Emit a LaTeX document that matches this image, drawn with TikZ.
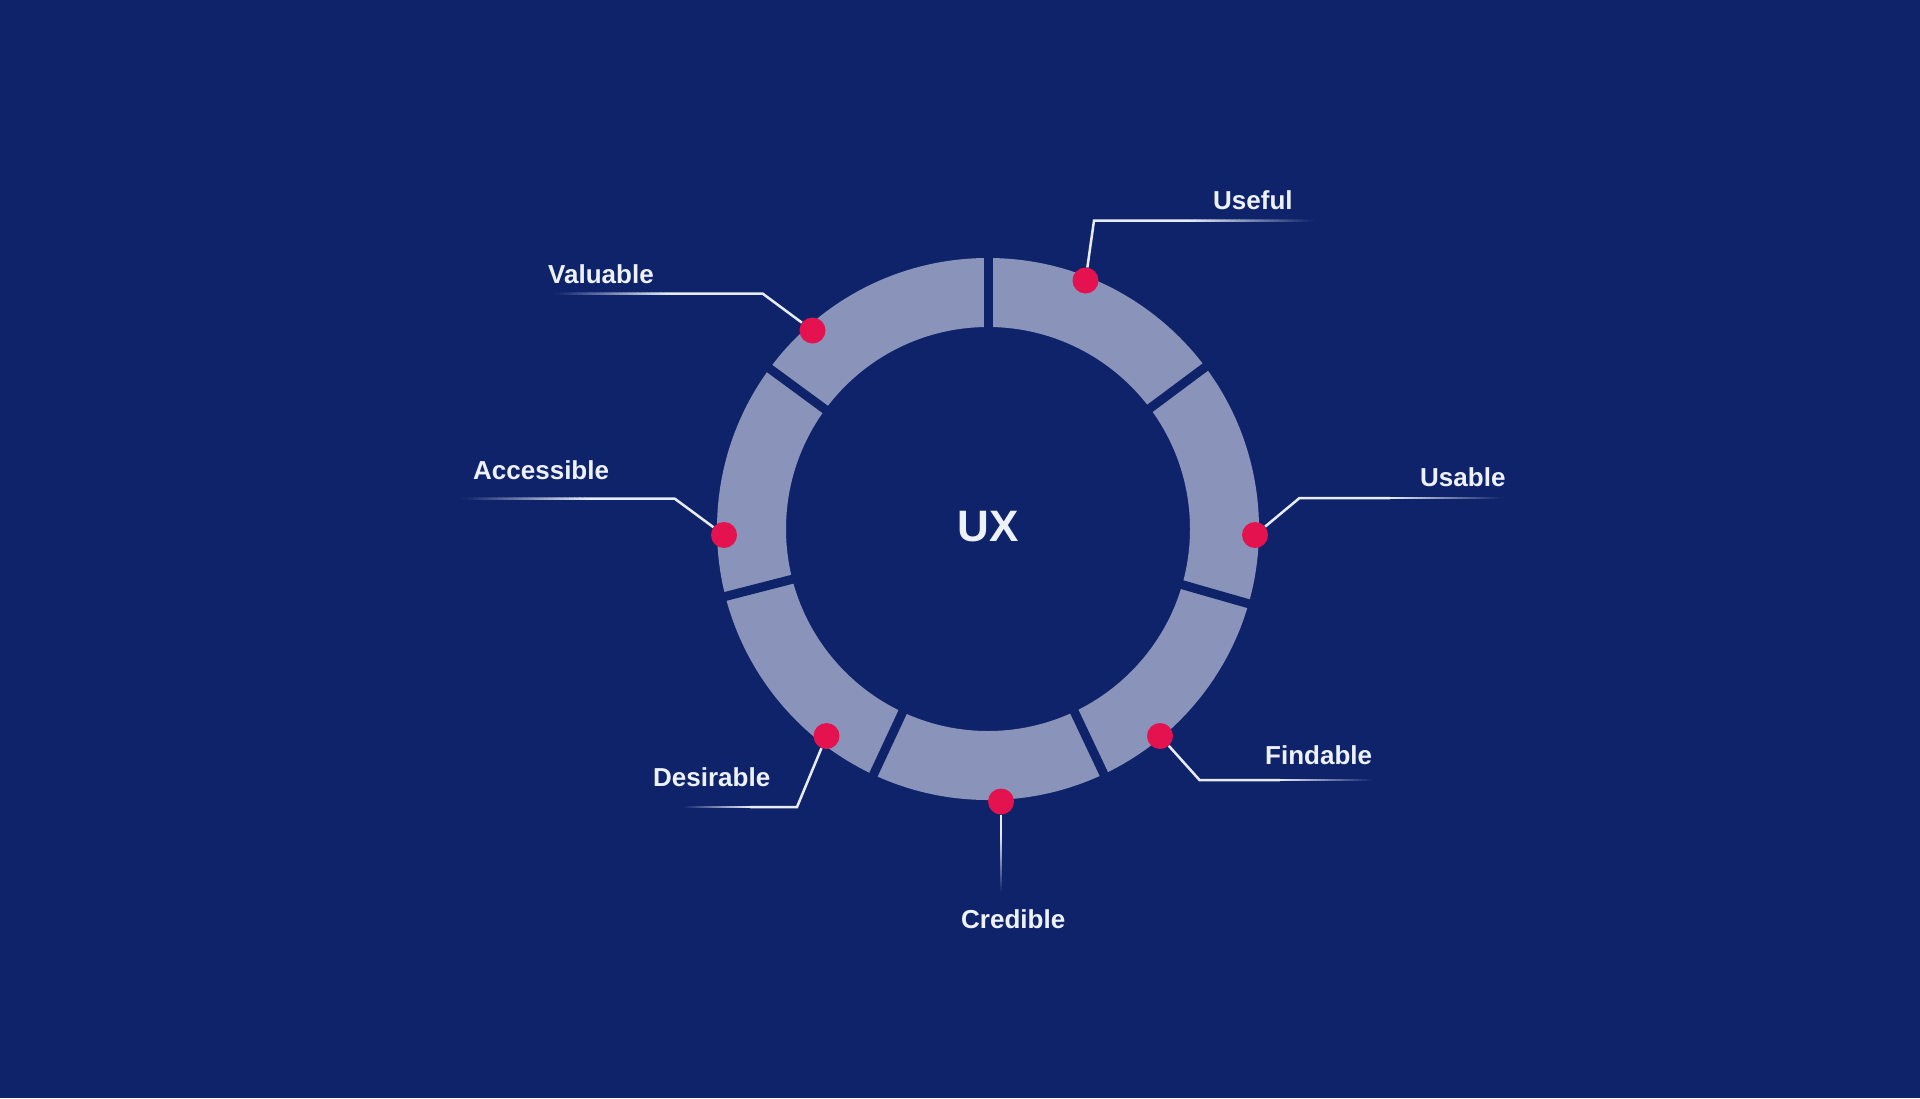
\documentclass[tikz,border=0pt]{standalone}
\usepackage{fontspec}
\setmainfont{Liberation Sans}
\usetikzlibrary{calc}
\definecolor{bgc}{HTML}{0F236B}
\definecolor{ringc}{HTML}{8A93B9}
\definecolor{redc}{HTML}{E4134F}
\definecolor{txtc}{HTML}{EDF1FA}
\definecolor{linec}{HTML}{E8ECF7}
\tikzset{
  dot/.style={circle, fill=redc, minimum size=26pt, inner sep=0pt},
  lbl/.style={anchor=base west, inner sep=0pt, text=txtc, font=\fontsize{26}{30}\selectfont\bfseries},
  leader/.style={draw=linec, line width=2.5pt, line join=miter},
  gapline/.style={draw=bgc, line width=9pt}
}
\newcommand{\myfade}[2]{%
  \foreach \i in {0,...,24}{%
    \pgfmathsetmacro\pct{100-4*\i-2}%
    \draw[line width=2.5pt, draw=linec!\pct!bgc] ($(#1)!\i/25!(#2)$) -- ($(#1)!\i/25+0.045!(#2)$);
  }}
\begin{document}
\begin{tikzpicture}[x=1pt,y=-1pt]
\fill[bgc] (0,0) rectangle (1920,1098);
\useasboundingbox (0,0) rectangle (1920,1098);
\coordinate (c) at (988,529);
% ring
\fill[ringc, even odd rule] (c) circle (271pt) (c) circle (202pt);
\foreach \a in {90,36.7,-16,-64.7,-115,194.4,143.7}
  \draw[gapline] ($(c)+(\a:195pt)$) -- ($(c)+(\a:280pt)$);
% centre label
\node[text=txtc, font=\fontsize{44}{50}\selectfont\bfseries, anchor=base, inner sep=0pt] (ux) at (988,541.5) {UX};
% dots
\node[dot] (dU) at (1085.5,280.5) {};
\node[dot] (dV) at (812.5,330.5) {};
\node[dot] (dA) at (724,535) {};
\node[dot] (dS) at (1255,535) {};
\node[dot] (dD) at (826.5,736) {};
\node[dot] (dF) at (1160,736) {};
\node[dot] (dC) at (1001,801.5) {};
% elbows, fade starts and free ends
\coordinate (eU) at (1094,220.5);  \coordinate (mU) at (1190,220.5); \coordinate (fU) at (1313,220.5);
\coordinate (eV) at (762.5,293.5); \coordinate (mV) at (670,293.5);  \coordinate (fV) at (555,293.5);
\coordinate (eA) at (674.5,498.5); \coordinate (mA) at (590,498.5);  \coordinate (fA) at (463,498.5);
\coordinate (eS) at (1299.5,498);  \coordinate (mS) at (1390,498);   \coordinate (fS) at (1503,498);
\coordinate (eD) at (797,807);     \coordinate (mD) at (750,807);    \coordinate (fD) at (683,807);
\coordinate (eF) at (1199.5,780);  \coordinate (mF) at (1280,780);   \coordinate (fF) at (1373,780);
\coordinate (mC) at (1001,835);    \coordinate (fC) at (1001,892);
% leaders
\draw[leader] (dU) -- (eU) -- (mU);
\draw[leader] (dV) -- (eV) -- (mV);
\draw[leader] (dA) -- (eA) -- (mA);
\draw[leader] (dS) -- (eS) -- (mS);
\draw[leader] (dD) -- (eD) -- (mD);
\draw[leader] (dF) -- (eF) -- (mF);
\draw[leader] (dC) -- (mC);
% fading tails
\myfade{mU}{fU}
\myfade{mV}{fV}
\myfade{mA}{fA}
\myfade{mS}{fS}
\myfade{mD}{fD}
\myfade{mF}{fF}
\myfade{mC}{fC}
% labels
\node[lbl] (tU) at (1213,209) {Useful};
\node[lbl] (tV) at (548,283) {Valuable};
\node[lbl] (tA) at (473,479) {Accessible};
\node[lbl] (tS) at (1420,486) {Usable};
\node[lbl] (tD) at (653,786) {Desirable};
\node[lbl] (tF) at (1265,764) {Findable};
\node[lbl] (tC) at (961,928) {Credible};
\end{tikzpicture}
\end{document}
